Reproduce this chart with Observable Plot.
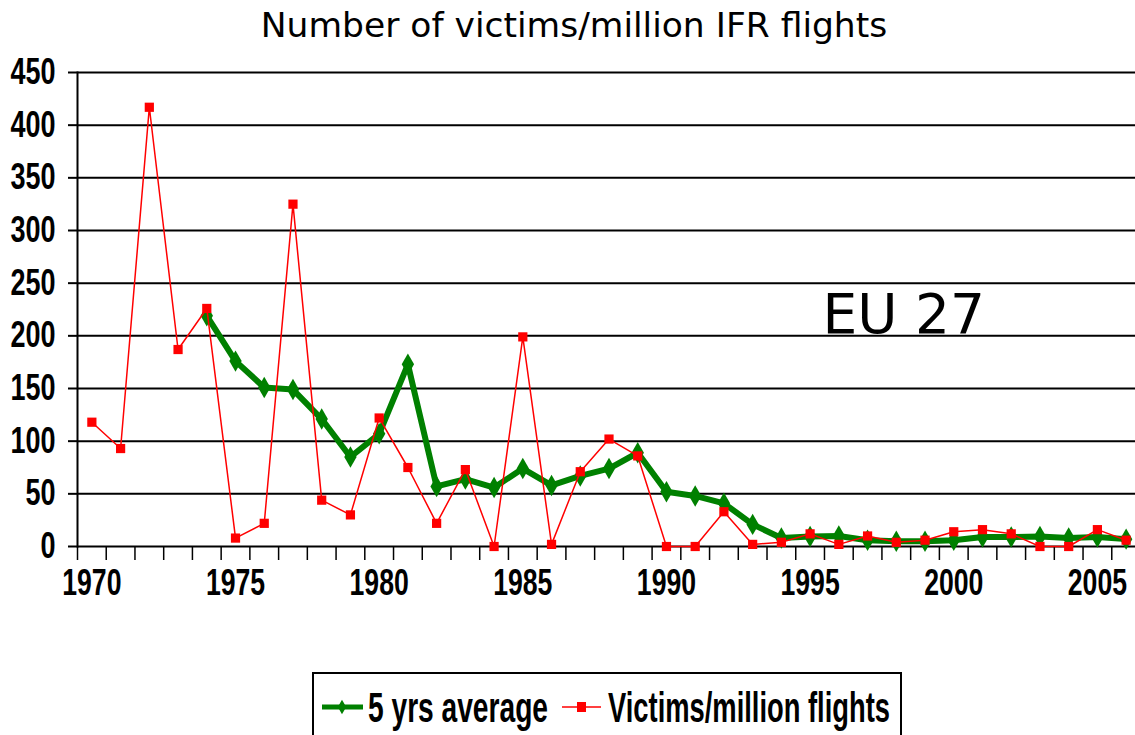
<!DOCTYPE html>
<html>
<head>
<meta charset="utf-8">
<script src="https://cdn.jsdelivr.net/npm/d3@7"></script>
<script src="https://cdn.jsdelivr.net/npm/@observablehq/plot@0.6"></script>
<style>
  html, body { margin: 0; padding: 0; background: #fff; width: 1135px; height: 735px; overflow: hidden; }
  #wrap { position: relative; width: 1135px; height: 735px; }
  #title { position: absolute; left: 0; top: 0; width: 1148px; height: 60px; text-align: center;
           font-family: "DejaVu Sans", Verdana, sans-serif; font-size: 34.5px; line-height: 1; color: #000; }
  #title span { position: absolute; left: 0; right: 0; top: 8px; }
  #chart { position: absolute; left: 0; top: 60px; }
  #legend { position: absolute; left: 0; top: 660px; }
</style>
</head>
<body>
<div id="wrap">
  <div id="title"><span>Number of victims/million IFR flights</span></div>
  <div id="chart"></div>
  <div id="legend"></div>
</div>
<script>
// ---- Data ----
const years = [1970,1971,1972,1973,1974,1975,1976,1977,1978,1979,1980,1981,1982,1983,1984,1985,1986,1987,1988,1989,1990,1991,1992,1993,1994,1995,1996,1997,1998,1999,2000,2001,2002,2003,2004,2005,2006];
const victims = [118,93,417,187,226,8,22,325,44,30,122,75,22,73,0,199,2,71,102,86,0,0,33,2,4,12,2,10,4,6,14,16,12,0,0,16,6];
const avgYears = [1974,1975,1976,1977,1978,1979,1980,1981,1982,1983,1984,1985,1986,1987,1988,1989,1990,1991,1992,1993,1994,1995,1996,1997,1998,1999,2000,2001,2002,2003,2004,2005,2006];
const average = [219,176,151,149,121,85,107,173,57,64,56,74,58,67,74,89,52,48,41,21,8,9.5,10,6,5,5,6,9,9,9.5,8,9,7];
const yTicks = [0,50,100,150,200,250,300,350,400,450];
const xLabelYears = [1970,1975,1980,1985,1990,1995,2000,2005];
const seriesNames = ["5 yrs average", "Victims/million flights"];
const annotation = ["EU 27"];

const redData = years.map((y, i) => ({year: y, value: victims[i]}));
const greenData = avgYears.map((y, i) => ({year: y, value: average[i]}));
const boundaries = years.map(y => y - 0.5).concat([years[years.length - 1] + 0.5]);

const boldFont = '"Liberation Sans", Arial, sans-serif';

const plot = Plot.plot({
  width: 1135,
  height: 600,
  marginTop: 12,
  marginBottom: 114,
  marginLeft: 77,
  marginRight: 0,
  style: { background: "#fff", color: "#000", overflow: "visible" },
  x: { type: "linear", domain: [years[0] - 0.5, years[years.length - 1] + 0.5], range: [77, 1140], axis: null },
  y: { domain: [0, 450], range: [486, 12], axis: null },
  marks: [
    Plot.gridY(yTicks, { stroke: "#000", strokeOpacity: 1, strokeWidth: 2 }),
    Plot.axisY(yTicks, {
      tickSize: 9, tickPadding: 13, strokeWidth: 2,
      fontSize: 36, fontWeight: "bold", fontFamily: boldFont, label: null
    }),
    Plot.axisX(boundaries, { tickSize: 14, strokeWidth: 1.5, tickFormat: () => "", label: null }),
    Plot.axisX(xLabelYears, {
      tickSize: 0, tickPadding: 22, tickFormat: d => String(d),
      fontSize: 37, fontWeight: "bold", fontFamily: boldFont, label: null
    }),
    Plot.frame({ anchor: "left", strokeWidth: 2 }),
    Plot.text(annotation, {
      text: d => d, frameAnchor: "top-left", dx: 745, dy: 260,
      textAnchor: "start", lineAnchor: "bottom",
      fontSize: 55, fontFamily: '"DejaVu Sans", Verdana, sans-serif', fill: "#000"
    }),
    Plot.line(greenData, { x: "year", y: "value", stroke: "#008000", strokeWidth: 6 }),
    Plot.dot(greenData, { x: "year", y: "value", symbol: "diamond", r: 6.5, fill: "#008000" }),
    Plot.line(redData, { x: "year", y: "value", stroke: "#ff0000", strokeWidth: 1.5 }),
    Plot.dot(redData, { x: "year", y: "value", symbol: "square", r: 5.2, fill: "#ff0000" })
  ]
});
document.getElementById("chart").appendChild(plot);

// Condense the bold tick labels horizontally, like the narrow font of the reference
function condense(root, selector, s) {
  root.querySelectorAll(selector).forEach(t => {
    if (!t.textContent) return;
    const b = t.getBBox();
    const anchor = getComputedStyle(t).textAnchor;
    const cx = anchor === "end" ? b.x + b.width : anchor === "middle" ? b.x + b.width / 2 : b.x;
    const tr = t.getAttribute("transform") || "";
    t.setAttribute("transform", `${tr} translate(${cx},0) scale(${s},1) translate(${-cx},0)`);
  });
}
condense(plot, 'g[aria-label="y-axis tick label"] text', 0.75);
condense(plot, 'g[aria-label="x-axis tick label"] text', 0.72);

// ---- Legend ----
const lg = d3.select("#legend").append("svg").attr("width", 1135).attr("height", 75);
lg.append("rect").attr("x", 313).attr("y", 13).attr("width", 588).attr("height", 90)
  .attr("fill", "#fff").attr("stroke", "#000").attr("stroke-width", 2);
// green item
lg.append("line").attr("x1", 322).attr("x2", 363).attr("y1", 47).attr("y2", 47)
  .attr("stroke", "#008000").attr("stroke-width", 5);
lg.append("path").attr("d", d3.symbol(d3.symbolDiamond, 60)()).attr("transform", "translate(342,47)").attr("fill", "#008000");
lg.append("text").attr("transform", "translate(368,62) scale(0.67,1)")
  .attr("font-family", boldFont).attr("font-weight", "bold").attr("font-size", 42)
  .attr("textLength", 180 / 0.67).attr("lengthAdjust", "spacingAndGlyphs").text(seriesNames[0]);
// red item
lg.append("line").attr("x1", 562).attr("x2", 601).attr("y1", 47).attr("y2", 47)
  .attr("stroke", "#ff0000").attr("stroke-width", 1.5);
lg.append("rect").attr("x", 577).attr("y", 42).attr("width", 9).attr("height", 10).attr("fill", "#ff0000");
lg.append("text").attr("transform", "translate(608,62) scale(0.67,1)")
  .attr("font-family", boldFont).attr("font-weight", "bold").attr("font-size", 42)
  .attr("textLength", 282 / 0.67).attr("lengthAdjust", "spacingAndGlyphs").text(seriesNames[1]);
</script>
</body>
</html>
